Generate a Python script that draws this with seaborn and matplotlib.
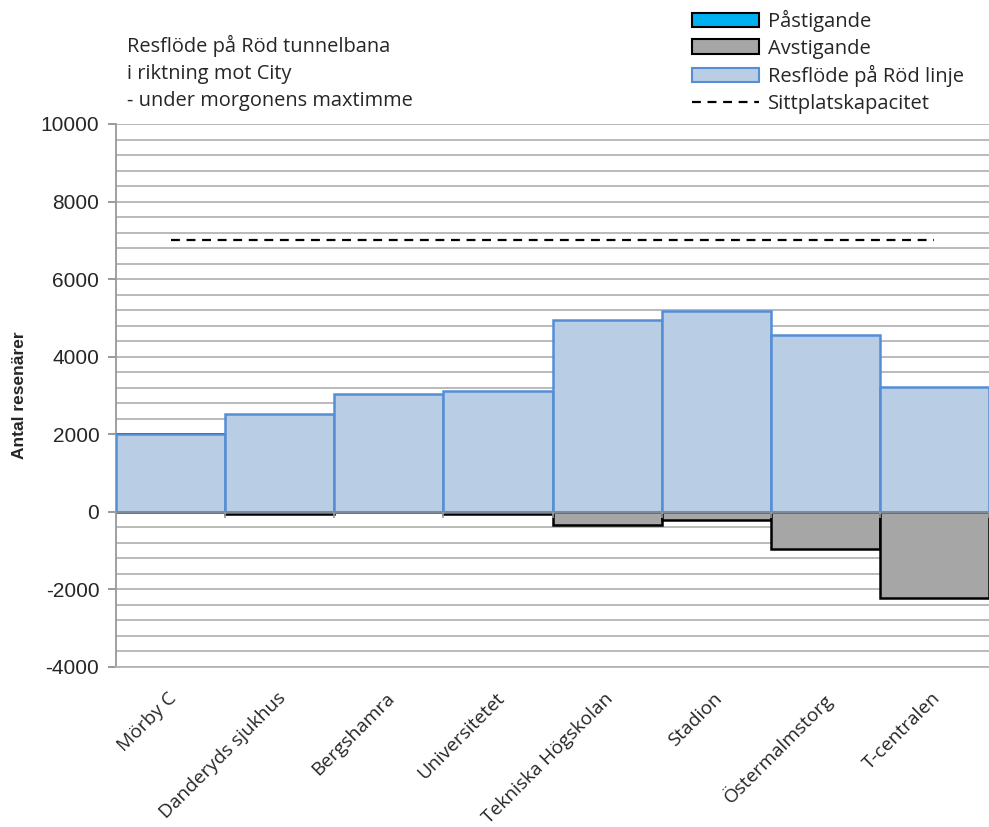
import matplotlib
matplotlib.use("Agg")
import matplotlib.pyplot as plt
import seaborn as sns
import numpy as np
from matplotlib.patches import Patch
from matplotlib.lines import Line2D
from matplotlib.ticker import MultipleLocator
import matplotlib.transforms as mtransforms

stations = ["Mörby C", "Danderyds sjukhus", "Bergshamra", "Universitetet",
            "Tekniska Högskolan", "Stadion", "Östermalmstorg", "T-centralen"]
flow = [2000, 2520, 3030, 3110, 4950, 5170, 4550, 3220]
avstigande = [0, -50, 0, -50, -333, -205, -950, -2230]
pastigande = [2000, 570, 510, 130, 2173, 425, 330, 900]
kapacitet = [7000] * 8
yticks = [-4000, -2000, 0, 2000, 4000, 6000, 8000, 10000]

sns.set_theme(style="white")
plt.rcParams['font.family'] = ['Open Sans', 'DejaVu Sans']

fig = plt.figure(figsize=(9.89, 8.27), dpi=100)
ax = fig.add_axes([116/989, 1-667/827, 873/989, (667-124)/827])

grid_c = "#b4b4b4"
ax.set_axisbelow(True)
ax.yaxis.set_minor_locator(MultipleLocator(400))
ax.grid(True, which="both", axis="y", color=grid_c, linewidth=1.3)
ax.grid(False, axis="x")

sns.barplot(x=stations, y=pastigande, width=1, color="#00B0F0", edgecolor="black",
            linewidth=1.2, saturation=1, ax=ax, zorder=2)
sns.barplot(x=stations, y=avstigande, width=1, color="#A6A6A6", edgecolor="black",
            linewidth=1.8, saturation=1, ax=ax, zorder=2)
sns.barplot(x=stations, y=flow, width=1, color="#B9CDE5", edgecolor="#558ED5",
            linewidth=1.8, saturation=1, ax=ax, zorder=3)
sns.lineplot(x=np.arange(len(stations)), y=kapacitet, color="black", linestyle=(0, (4, 3)),
             linewidth=1.6, ax=ax, zorder=4)

ax.set_xlim(-0.5, len(stations) - 0.5)
ax.set_ylim(-4000, 10000)
ax.set_yticks(yticks)
ax.set_yticklabels([str(v) for v in yticks], fontsize=15, family=["Liberation Sans"])
ax.tick_params(axis="y", which="major", left=True, length=6, color="#888888", width=1.2, pad=6)
ax.tick_params(axis="y", which="minor", left=False)

ax.set_xticks(np.arange(len(stations)))
ax.set_xticklabels(stations, rotation=45, ha="right", rotation_mode="anchor", fontsize=13.8)
ax.tick_params(axis="x", length=0, pad=16)
offset = mtransforms.ScaledTranslation(-3/100, 0, fig.dpi_scale_trans)
for lab in ax.get_xticklabels():
    lab.set_transform(lab.get_transform() + offset)

# zero axis line with boundary ticks
ax.axhline(0, color="#7f8c99", linewidth=1.4, zorder=3.5)
ax.vlines(np.arange(len(stations) + 1) - 0.5, -150, 0, color="#999999", linewidth=1.2, zorder=3.5)

for s in ["top", "right"]:
    ax.spines[s].set_visible(False)
ax.spines["left"].set_color("#999999")
ax.spines["left"].set_linewidth(1.3)
ax.spines["bottom"].set_color(grid_c)
ax.spines["bottom"].set_linewidth(1.3)

ax.set_ylabel("Antal resenärer", fontsize=12.5, fontweight="bold", family=["Liberation Sans"], labelpad=10)
ax.set_xlabel("")

fig.text(127/989, 1-35/827, "Resflöde på Röd tunnelbana\ni riktning mot City\n- under morgonens maxtimme",
         fontsize=14.4, va="top", ha="left", linespacing=1.45)

handles = [Patch(facecolor="#00B0F0", edgecolor="black", linewidth=1.5),
           Patch(facecolor="#A6A6A6", edgecolor="black", linewidth=1.5),
           Patch(facecolor="#B9CDE5", edgecolor="#558ED5", linewidth=1.5),
           Line2D([0], [0], color="black", linestyle=(0, (4, 3)), linewidth=1.6)]
labels = ["Påstigande", "Avstigande", "Resflöde på Röd linje", "Sittplatskapacitet"]
fig.legend(handles, labels, loc="upper left", bbox_to_anchor=(684/989, 1-2/827), frameon=False,
           fontsize=14.5, handlelength=3.3, handleheight=0.7, labelspacing=0.32, handletextpad=0.45,
           borderaxespad=0)

fig.savefig("out.png", dpi=100)
